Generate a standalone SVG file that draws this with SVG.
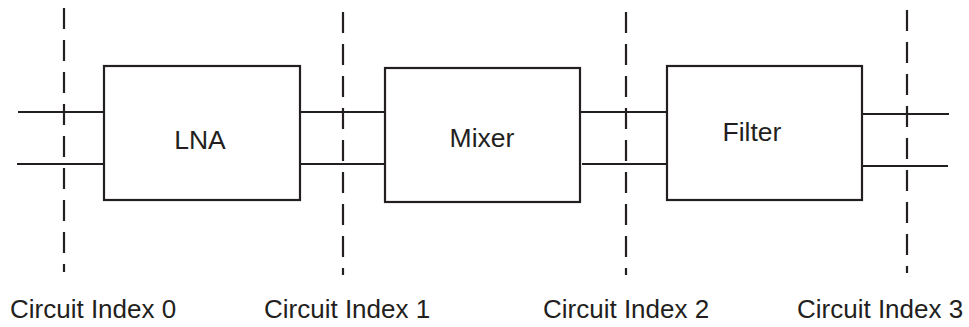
<svg xmlns="http://www.w3.org/2000/svg" width="969" height="327" viewBox="0 0 969 327">
<style>
.box{fill:#fff;stroke:#231f20;stroke-width:2.2}
.wire{stroke:#231f20;stroke-width:2.2;fill:none}
.dash{stroke:#231f20;stroke-width:2.2;stroke-dasharray:21 11;fill:none}
.t{font-family:"Liberation Sans",Arial,sans-serif;fill:#231f20}
.lbl{font-size:26px}
.nm{font-size:26.5px;text-anchor:middle}
</style>
<rect width="969" height="327" fill="#fff"/>
<g id="connectors">
<line class="wire" x1="18" y1="112" x2="104" y2="112"/>
<line class="wire" x1="17" y1="164" x2="104" y2="164"/>
<line class="wire" x1="300" y1="112" x2="385" y2="112"/>
<line class="wire" x1="300" y1="164" x2="385" y2="164"/>
<line class="wire" x1="581" y1="112" x2="667" y2="112"/>
<line class="wire" x1="582" y1="164" x2="667" y2="164"/>
<line class="wire" x1="863" y1="114" x2="949" y2="114"/>
<line class="wire" x1="862" y1="166" x2="948" y2="166"/>
</g>
<g id="boundaries">
<line class="dash" x1="64" y1="8" x2="64" y2="272"/>
<line class="dash" x1="343" y1="12" x2="343" y2="275"/>
<line class="dash" x1="626" y1="12" x2="626" y2="275"/>
<line class="dash" x1="907" y1="10" x2="907" y2="273"/>
</g>
<g id="lna">
<rect class="box" x="104" y="66" width="196" height="134"/>
<text class="t nm" x="200" y="149">LNA</text>
</g>
<g id="mixer">
<rect class="box" x="385" y="68" width="195" height="134"/>
<text class="t nm" x="482" y="147">Mixer</text>
</g>
<g id="filter">
<rect class="box" x="667" y="66" width="195" height="134"/>
<text class="t nm" x="752" y="141">Filter</text>
</g>
<g id="labels">
<text class="t lbl" x="10" y="318">Circuit Index 0</text>
<text class="t lbl" x="264" y="318">Circuit Index 1</text>
<text class="t lbl" x="543" y="318">Circuit Index 2</text>
<text class="t lbl" x="797" y="318">Circuit Index 3</text>
</g>
</svg>
